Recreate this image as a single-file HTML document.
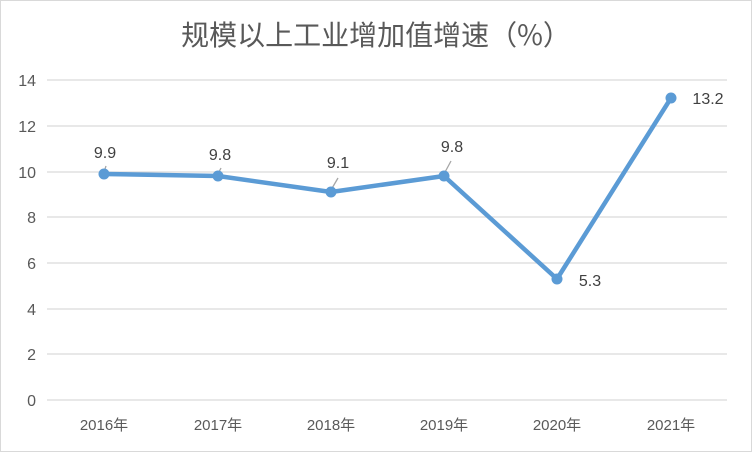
<!DOCTYPE html><html><head><style>body{margin:0;background:#fff}svg{display:block}</style></head><body>
<svg width="752" height="452" xmlns="http://www.w3.org/2000/svg" font-family="Liberation Sans, Noto Sans CJK SC, sans-serif">
<rect x="0.5" y="0.5" width="751" height="451" fill="#fff" stroke="#d9d9d9"/>
<text x="376" y="45" text-anchor="middle" font-size="28" fill="#595959" font-family="Noto Sans CJK SC, sans-serif">规模以上工业增加值增速（%）</text>
<g stroke="#d9d9d9" stroke-width="1.3">
<line x1="47" x2="727" y1="80" y2="80"/><line x1="47" x2="727" y1="126" y2="126"/><line x1="47" x2="727" y1="172" y2="172"/><line x1="47" x2="727" y1="217" y2="217"/><line x1="47" x2="727" y1="263" y2="263"/><line x1="47" x2="727" y1="309" y2="309"/><line x1="47" x2="727" y1="354" y2="354"/><line x1="47" x2="727" y1="400" y2="400"/>
</g>
<g font-size="16" fill="#595959" text-anchor="end">
<text x="36" y="86">14</text><text x="36" y="132">12</text><text x="36" y="178">10</text><text x="36" y="223">8</text><text x="36" y="269">6</text><text x="36" y="315">4</text><text x="36" y="360">2</text><text x="36" y="406">0</text>
</g>
<g font-size="15" fill="#595959" text-anchor="middle">
<text x="104" y="430">2016年</text><text x="218" y="430">2017年</text><text x="331" y="430">2018年</text><text x="444" y="430">2019年</text><text x="557" y="430">2020年</text><text x="671" y="430">2021年</text>
</g>
<g stroke="#a6a6a6" stroke-width="1.3">
<line x1="104" y1="172" x2="106" y2="166"/><line x1="218" y1="174" x2="221" y2="168"/><line x1="331" y1="190" x2="338" y2="178"/><line x1="444" y1="174" x2="451" y2="161"/>
</g>
<polyline points="104,174 218,176 331,192 444,176 557,279 671,98" fill="none" stroke="#5b9bd5" stroke-width="4.5" stroke-linejoin="round"/>
<g fill="#5b9bd5"><circle cx="104" cy="174" r="5.5"/><circle cx="218" cy="176" r="5.5"/><circle cx="331" cy="192" r="5.5"/><circle cx="444" cy="176" r="5.5"/><circle cx="557" cy="279" r="5.5"/><circle cx="671" cy="98" r="5.5"/></g>
<g font-size="16" fill="#404040" text-anchor="middle">
<text x="105" y="158">9.9</text><text x="220" y="160">9.8</text><text x="338" y="168">9.1</text><text x="452" y="152">9.8</text><text x="590" y="286">5.3</text><text x="708" y="104">13.2</text>
</g>
</svg>
</body></html>
